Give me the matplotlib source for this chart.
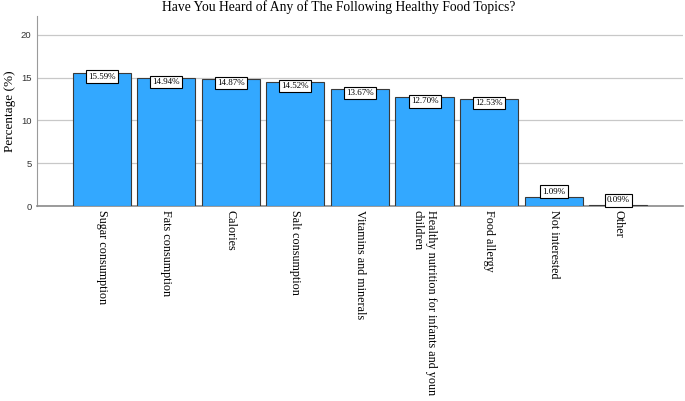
import matplotlib.pyplot as plt
import numpy as np

# category labels and percentages
categories = ['Sugar consumption', 'Fats consumption', 'Calories', 'Salt consumption',
              'Vitamins and minerals', 'Healthy nutrition for infants and youn\nchildren',
              'Food allergy', 'Not interested', 'Other']
percent = [15.59, 14.94, 14.87, 14.52, 13.67, 12.70, 12.53, 1.09, 0.09]
yticks = [0, 5, 10, 15, 20]

serif = ['Liberation Serif', 'DejaVu Serif']
sans = ['Liberation Sans', 'DejaVu Sans']

fig = plt.figure(figsize=(6.85, 4.01), dpi=100)
ax = fig.add_axes([0.054, 0.486, 0.943, 0.474])

x = np.arange(len(categories))
bars = ax.bar(x, percent, width=0.9, color='#33a8ff', edgecolor='#3a3a3a', linewidth=0.8, zorder=3)

# value boxes
for xi, v in zip(x, percent):
    if v > 5:
        ax.text(xi, v, '%.2f%%' % v, ha='center', va='top', fontsize=6.5, family=serif, zorder=4,
                bbox=dict(boxstyle='square,pad=0.25', fc='white', ec='black', lw=0.8))
    else:
        ax.text(xi, v + 0.12, '%.2f%%' % v, ha='center', va='bottom', fontsize=6.5, family=serif, zorder=4,
                bbox=dict(boxstyle='square,pad=0.25', fc='white', ec='black', lw=0.8))

ax.set_xlim(-1, 9)
ax.set_ylim(0, 22.2)
ax.set_yticks(yticks)
ax.set_yticklabels([str(t) for t in yticks], family=sans, fontsize=6.8, color='#333333')
ax.set_xticks(x)
ax.set_xticklabels(categories, rotation=270, va='top', ha='center', family=serif, fontsize=8.7)
for lab in ax.get_xticklabels():
    lab.set_multialignment('left')
ax.tick_params(axis='x', length=0, pad=3)
ax.tick_params(axis='y', length=0, pad=4)
ax.yaxis.grid(True, color='#c8c8c8', linewidth=0.9, zorder=0)
ax.set_axisbelow(True)

for s in ['top', 'right']:
    ax.spines[s].set_visible(False)
ax.spines['left'].set_color('#9a9a9a')
ax.spines['bottom'].set_color('#8a8a8a')
ax.spines['bottom'].set_linewidth(1.2)

ax.set_ylabel('Percentage (%)', family=serif, fontsize=9.5)
ax.yaxis.set_label_coords(-0.033, 0.5)
fig.suptitle('Have You Heard of Any of The Following Healthy Food Topics?', family=serif,
             fontsize=9.8, x=0.495, y=0.982, va='center')

fig.savefig('out.png', dpi=100)
